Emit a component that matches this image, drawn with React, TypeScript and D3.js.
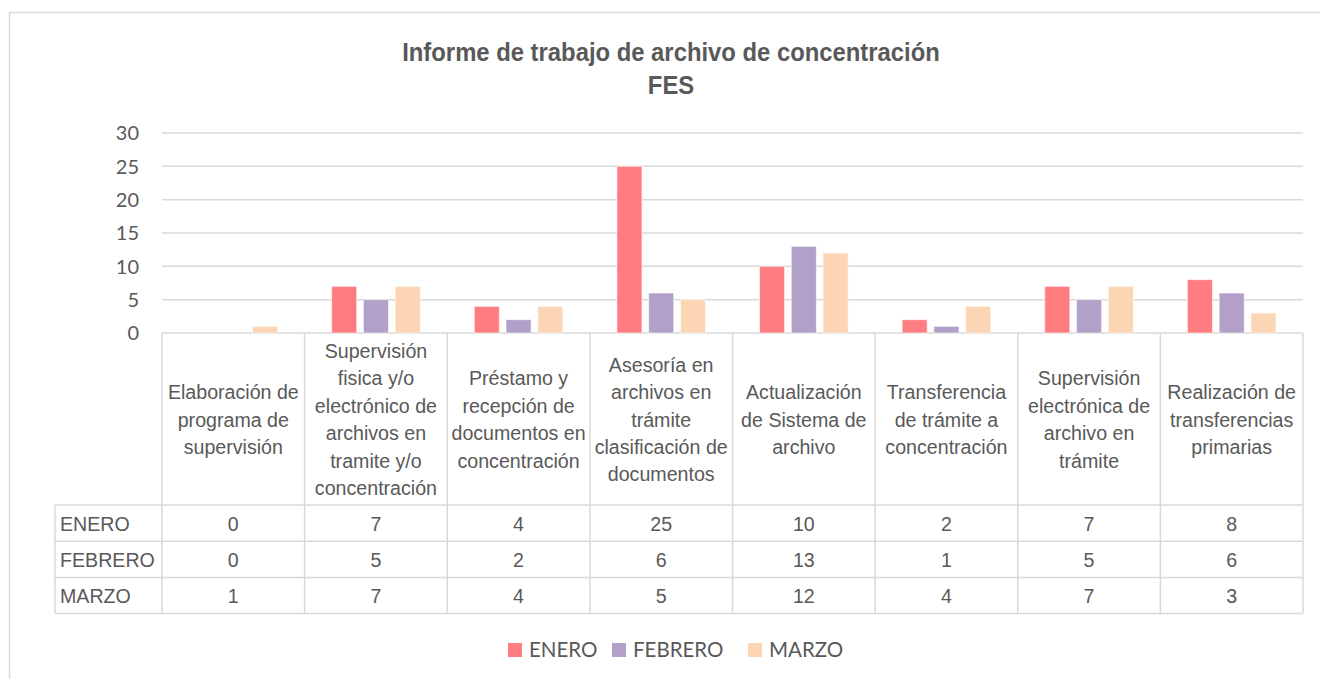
import React from "react";
import * as d3 from "d3";

const categories = [
  "Elaboración de\nprograma de\nsupervisión",
  "Supervisión\nfisica y/o\nelectrónico de\narchivos en\ntramite y/o\nconcentración",
  "Préstamo y\nrecepción de\ndocumentos en\nconcentración",
  "Asesoría en\narchivos en\ntrámite\nclasificación de\ndocumentos",
  "Actualización\nde Sistema de\narchivo",
  "Transferencia\nde trámite a\nconcentración",
  "Supervisión\nelectrónica de\narchivo en\ntrámite",
  "Realización de\ntransferencias\nprimarias",
];

const seriesNames = ["ENERO", "FEBRERO", "MARZO"];
const enero = [0, 7, 4, 25, 10, 2, 7, 8];
const febrero = [0, 5, 2, 6, 13, 1, 5, 6];
const marzo = [1, 7, 4, 5, 12, 4, 7, 3];
const seriesValues = [enero, febrero, marzo];
const yTicks = [0, 5, 10, 15, 20, 25, 30];

const colors = ["#FF7C80", "#B1A0C7", "#FCD5B4"];
const textColor = "#595959";
const gridColor = "#D9D9D9";
const arial = "'Liberation Sans', Arial, sans-serif";
const calibriLike = "Lato, 'Open Sans', sans-serif";
const squeeze = 0.935; // narrow-ish Arial look

// Liberation Sans squeezed horizontally, anchored at (x, y)
function Narrow({ x, y, anchor = "middle", size, bold = false, children }: any) {
  return (
    <text
      transform={`translate(${x},${y}) scale(${squeeze},1)`}
      textAnchor={anchor}
      dy="0.36em"
      fontFamily={arial}
      fontSize={size}
      fontWeight={bold ? "bold" : "normal"}
      fill={textColor}
    >
      {children}
    </text>
  );
}

export default function App() {
  const W = 1320;
  const H = 679;
  const left = 162;
  const right = 1303;
  const plotTop = 133;
  const plotBottom = 333;
  const headerBottom = 505;
  const rowH = 36.2;
  const tableLeft = 55;

  const x = d3.scaleBand<number>().domain(d3.range(categories.length)).range([left, right]);
  const xs = d3
    .scaleBand<string>()
    .domain(seriesNames)
    .range([27, x.bandwidth() - 27])
    .paddingInner(0.21);
  const y = d3.scaleLinear().domain([0, 30]).range([plotBottom, plotTop]);

  const tableBottom = headerBottom + rowH * seriesNames.length;
  const lineH = 27.4;

  const legendX = [508, 612, 748];

  return (
    <div style={{ position: "absolute", left: 0, top: 0 }}>
      <svg width={W} height={H} style={{ display: "block", background: "#fff" }}>
        <rect x={9.5} y={12.5} width={W} height={H} fill="#fff" stroke={gridColor} strokeWidth={1.5} />

        {/* title */}
        <Narrow x={671} y={52} size={25.5} bold>
          Informe de trabajo de archivo de concentración
        </Narrow>
        <Narrow x={671} y={85} size={25.5} bold>
          FES
        </Narrow>

        {/* grid + y labels */}
        {yTicks.map((t) => (
          <g key={t}>
            <line x1={left} x2={right} y1={y(t)} y2={y(t)} stroke={gridColor} strokeWidth={1.5} />
            <text
              x={139}
              y={y(t)}
              dy="0.36em"
              textAnchor="end"
              fontFamily={calibriLike}
              fontSize={20}
              fill={textColor}
            >
              {t}
            </text>
          </g>
        ))}

        {/* bars */}
        {categories.map((_, i) => (
          <g key={i} transform={`translate(${x(i)},0)`}>
            {seriesNames.map((s, k) => {
              const v = seriesValues[k][i];
              if (!v) return null;
              return (
                <rect
                  key={s}
                  x={xs(s)}
                  y={y(v)}
                  width={xs.bandwidth()}
                  height={y(0) - y(v)}
                  fill={colors[k]}
                  stroke="rgba(255,255,255,0.6)"
                  strokeWidth={1}
                />
              );
            })}
          </g>
        ))}

        {/* table lines */}
        <g stroke={gridColor} strokeWidth={1.5}>
          {d3.range(categories.length + 1).map((i) => {
            const xx = i < categories.length ? x(i)! : right;
            return <line key={i} x1={xx} x2={xx} y1={plotBottom} y2={tableBottom} />;
          })}
          <line x1={tableLeft} x2={tableLeft} y1={headerBottom} y2={tableBottom} />
          {d3.range(seriesNames.length + 1).map((r) => (
            <line
              key={r}
              x1={tableLeft}
              x2={right}
              y1={headerBottom + r * rowH}
              y2={headerBottom + r * rowH}
            />
          ))}
        </g>

        {/* category headers */}
        {categories.map((c, i) => {
          const lines = c.split("\n");
          const cx = x(i)! + x.bandwidth() / 2;
          const cy = (plotBottom + headerBottom) / 2;
          const start = cy - ((lines.length - 1) * lineH) / 2;
          return (
            <g key={i}>
              {lines.map((l, j) => (
                <Narrow key={j} x={cx} y={start + j * lineH} size={21}>
                  {l}
                </Narrow>
              ))}
            </g>
          );
        })}

        {/* table rows */}
        {seriesNames.map((s, k) => {
          const cy = headerBottom + k * rowH + rowH / 2;
          return (
            <g key={s}>
              <Narrow x={60} y={cy} anchor="start" size={21}>
                {s}
              </Narrow>
              {seriesValues[k].map((v, i) => (
                <Narrow key={i} x={x(i)! + x.bandwidth() / 2} y={cy} size={21}>
                  {v}
                </Narrow>
              ))}
            </g>
          );
        })}

        {/* legend */}
        {seriesNames.map((s, k) => (
          <g key={s}>
            <rect x={legendX[k]} y={643} width={14} height={14} fill={colors[k]} />
            <text
              x={legendX[k] + 21}
              y={650}
              dy="0.36em"
              fontFamily={calibriLike}
              fontSize={20.5}
              fill={textColor}
            >
              {s}
            </text>
          </g>
        ))}
      </svg>
    </div>
  );
}
